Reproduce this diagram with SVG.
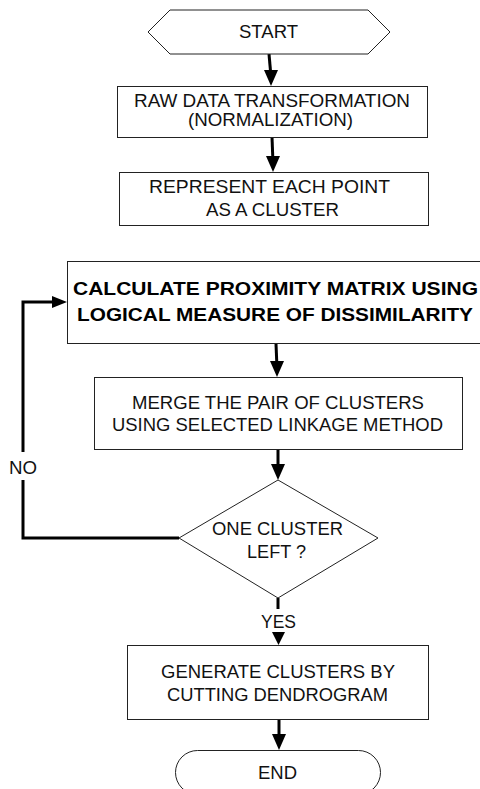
<svg xmlns="http://www.w3.org/2000/svg" width="480" height="789" viewBox="0 0 480 789">
<style>
.shape{fill:#fff;stroke:#222;stroke-width:1}
.t{font-family:"Liberation Sans",Arial,sans-serif;font-size:18px;fill:#111;text-anchor:middle}
.b{font-weight:bold;fill:#000}
.c{fill:none;stroke:#000;stroke-width:3}
.h{fill:#000;stroke:none}
</style>
<rect width="480" height="789" fill="#fff"/>
<g id="connectors">
<path class="c" d="M269,54 L270.6,72"/><polygon class="h" points="264,70 278,70 271,86"/>
<path class="c" d="M272,137 L272.8,158"/><polygon class="h" points="266,156 280,156 273,172"/>
<path class="c" d="M276,344 L276.8,363"/><polygon class="h" points="270,361 284,361 277,377"/>
<path class="c" d="M278,449 L278,466"/><polygon class="h" points="271,464 285,464 278,480"/>
<path class="c" d="M179,538 L23,538 L23,480"/>
<path class="c" d="M23,452 L23,302 L54,302"/><polygon class="h" points="52,296 52,308 67,302"/>
<path class="c" d="M278,598 L278,609"/>
<polygon class="h" points="272,632 285,632 278.5,645"/>
<path class="c" d="M279,720 L279,736"/><polygon class="h" points="272,734 286,734 279,750"/>
</g>
<g id="start">
<polygon class="shape" points="148,32 170,10 368,10 390,32 368,54 170,54"/>
<text class="t" x="268.5" y="38" textLength="59" lengthAdjust="spacingAndGlyphs">START</text>
</g>
<g id="transform">
<rect class="shape" x="117.5" y="86.5" width="310" height="51"/>
<text class="t" x="272" y="106.5" textLength="276" lengthAdjust="spacingAndGlyphs">RAW DATA TRANSFORMATION</text>
<text class="t" x="270.5" y="125.5" textLength="165" lengthAdjust="spacingAndGlyphs">(NORMALIZATION)</text>
</g>
<g id="represent">
<rect class="shape" x="119.5" y="172.5" width="309" height="53"/>
<text class="t" x="269.5" y="192.5" textLength="241" lengthAdjust="spacingAndGlyphs">REPRESENT EACH POINT</text>
<text class="t" x="272.5" y="215.5" textLength="133" lengthAdjust="spacingAndGlyphs">AS A CLUSTER</text>
</g>
<g id="proximity">
<rect class="shape" x="67.5" y="261.5" width="420" height="82"/>
<text class="t b" x="275.5" y="295" textLength="405" lengthAdjust="spacingAndGlyphs">CALCULATE PROXIMITY MATRIX USING</text>
<text class="t b" x="275" y="321" textLength="396" lengthAdjust="spacingAndGlyphs">LOGICAL MEASURE OF DISSIMILARITY</text>
</g>
<g id="merge">
<rect class="shape" x="94.5" y="377.5" width="368" height="72"/>
<text class="t" x="278" y="408.5" textLength="292" lengthAdjust="spacingAndGlyphs">MERGE THE PAIR OF CLUSTERS</text>
<text class="t" x="277.5" y="430.5" textLength="331" lengthAdjust="spacingAndGlyphs">USING SELECTED LINKAGE METHOD</text>
</g>
<g id="decision">
<polygon class="shape" points="278,480 378,538 278,598 179,538"/>
<text class="t" x="277.5" y="534.5" textLength="131" lengthAdjust="spacingAndGlyphs">ONE CLUSTER</text>
<text class="t" x="276.5" y="557.5" textLength="59" lengthAdjust="spacingAndGlyphs">LEFT ?</text>
</g>
<g id="labels">
<text class="t" x="23" y="473.5" textLength="28" lengthAdjust="spacingAndGlyphs">NO</text>
<text class="t" x="278.5" y="627.5" textLength="35" lengthAdjust="spacingAndGlyphs">YES</text>
</g>
<g id="generate">
<rect class="shape" x="127.5" y="645.5" width="301" height="74"/>
<text class="t" x="278" y="677.5" textLength="234" lengthAdjust="spacingAndGlyphs">GENERATE CLUSTERS BY</text>
<text class="t" x="277.5" y="700.5" textLength="221" lengthAdjust="spacingAndGlyphs">CUTTING DENDROGRAM</text>
</g>
<g id="end">
<rect class="shape" x="175.5" y="750.5" width="205" height="44" rx="22" ry="22"/>
<text class="t" x="277.5" y="778.5" textLength="39" lengthAdjust="spacingAndGlyphs">END</text>
</g>
</svg>
